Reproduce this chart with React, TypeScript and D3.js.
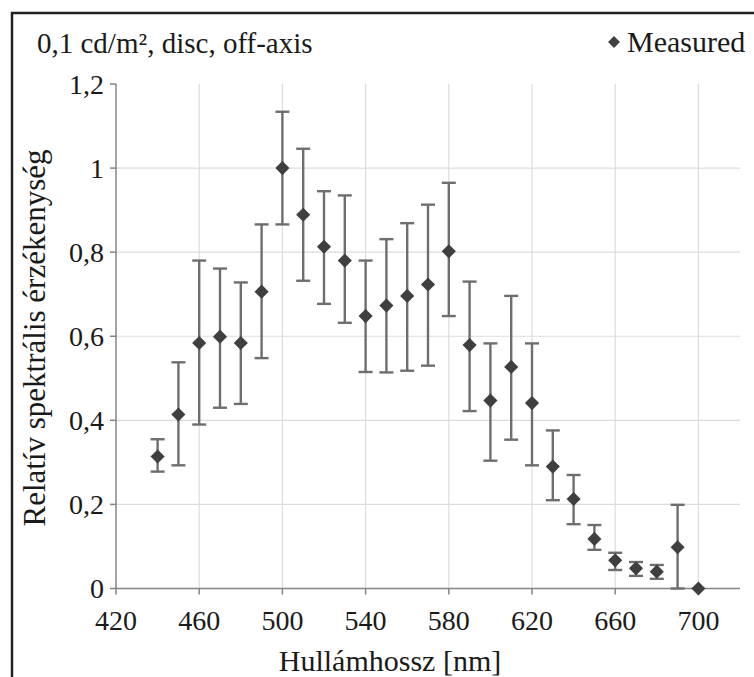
import React, { useRef, useEffect } from "react";
import * as d3 from "d3";

const wavelengths = [440, 450, 460, 470, 480, 490, 500, 510, 520, 530, 540, 550, 560, 570, 580, 590, 600, 610, 620, 630, 640, 650, 660, 670, 680, 690, 700];
const measured = [0.314, 0.414, 0.584, 0.599, 0.584, 0.706, 1.0, 0.889, 0.813, 0.78, 0.648, 0.673, 0.696, 0.723, 0.802, 0.579, 0.447, 0.527, 0.441, 0.29, 0.213, 0.118, 0.067, 0.048, 0.04, 0.098, 0.0];
const errUpper = [0.355, 0.538, 0.78, 0.761, 0.728, 0.866, 1.134, 1.046, 0.945, 0.935, 0.78, 0.831, 0.869, 0.913, 0.965, 0.73, 0.583, 0.696, 0.583, 0.376, 0.27, 0.151, 0.085, 0.063, 0.056, 0.199, 0.0];
const errLower = [0.278, 0.293, 0.39, 0.43, 0.439, 0.548, 0.866, 0.732, 0.677, 0.632, 0.515, 0.514, 0.518, 0.53, 0.648, 0.422, 0.304, 0.354, 0.293, 0.21, 0.153, 0.092, 0.044, 0.03, 0.023, 0.0, 0.0];
const xTicks = [420, 460, 500, 540, 580, 620, 660, 700];
const xGrid = [460, 500, 540, 580, 620, 660, 700];
const yTicks = [0, 0.2, 0.4, 0.6, 0.8, 1, 1.2];
const yGrid = [0.2, 0.4, 0.6, 0.8, 1];

const W = 754;
const H = 677;
const FONT = "Liberation Serif";
const TEXT = "#1a1a1a";
const AXIS = "#858585";

function Label(props: any) {
  const { children, ...rest } = props;
  return (
    <text fontFamily={FONT} fill={TEXT} {...rest}>
      {children}
    </text>
  );
}

export default function App() {
  const svgRef = useRef<SVGSVGElement>(null);

  useEffect(() => {
    // force the serif face on every label
    d3.select(svgRef.current)
      .selectAll<SVGTextElement, unknown>("text")
      .each(function () {
        this.style.setProperty("font-family", '"Liberation Serif", "Times New Roman", serif', "important");
      });
  }, []);

  const x = d3.scaleLinear().domain([420, 720]).range([116, 740]);
  const y = d3.scaleLinear().domain([0, 1.2]).range([588.5, 84]);
  const fmt = (v: number) => d3.format(".1~f")(v).replace(".", ",");
  const diamond = d3.symbol().type(d3.symbolSquare).size(100)() as string;
  const legendDiamond = d3.symbol().type(d3.symbolSquare).size(70)() as string;

  return (
    <svg ref={svgRef} width={W} height={H} style={{ position: "absolute", left: 0, top: 0 }}>
      <rect width={W} height={H} fill="white" />
      {/* frame */}
      <rect x={12} y={13} width={W + 20} height={H + 20} fill="none" stroke="#222" strokeWidth={2.5} />

      {/* grid */}
      {xGrid.map((d) => (
        <line key={"gx" + d} x1={x(d)} x2={x(d)} y1={y(1.2)} y2={y(0)} stroke="#dcdcdc" strokeWidth={1.2} />
      ))}
      {yGrid.map((d) => (
        <line key={"gy" + d} x1={x(420)} x2={x(720)} y1={y(d)} y2={y(d)} stroke="#dcdcdc" strokeWidth={1.2} />
      ))}

      {/* axes */}
      <line x1={x(420)} x2={x(720)} y1={y(0)} y2={y(0)} stroke={AXIS} strokeWidth={1.5} />
      <line x1={x(420)} x2={x(420)} y1={y(0)} y2={y(1.2)} stroke={AXIS} strokeWidth={1.5} />
      {xTicks.map((d) => (
        <g key={"tx" + d} transform={`translate(${x(d)},${y(0)})`}>
          <line y2={6} stroke={AXIS} strokeWidth={1.5} />
          <Label y={41} textAnchor="middle" fontSize={28}>
            {d}
          </Label>
        </g>
      ))}
      {yTicks.map((d) => (
        <g key={"ty" + d} transform={`translate(${x(420)},${y(d)})`}>
          <line x2={-6} stroke={AXIS} strokeWidth={1.5} />
          <Label x={-12} dy="0.35em" textAnchor="end" fontSize={28}>
            {fmt(d)}
          </Label>
        </g>
      ))}

      {/* error bars */}
      <g stroke="#6e6e6e" strokeWidth={2.4}>
        {wavelengths.map((w, i) =>
          errUpper[i] === errLower[i] ? null : (
            <g key={"e" + w}>
              <line x1={x(w)} x2={x(w)} y1={y(errUpper[i])} y2={y(errLower[i])} />
              <line x1={x(w) - 7} x2={x(w) + 7} y1={y(errUpper[i])} y2={y(errUpper[i])} />
              <line x1={x(w) - 7} x2={x(w) + 7} y1={y(errLower[i])} y2={y(errLower[i])} />
            </g>
          )
        )}
      </g>

      {/* markers */}
      {wavelengths.map((w, i) => (
        <path key={"m" + w} d={diamond} transform={`translate(${x(w)},${y(measured[i])}) rotate(45)`} fill="#3f3f3f" />
      ))}

      {/* title */}
      <Label x={37} y={53} fontSize={29}>
        0,1 cd/m², disc, off-axis
      </Label>

      {/* legend */}
      <path d={legendDiamond} transform="translate(614,42) rotate(45)" fill="#3f3f3f" />
      <Label x={627} y={52} fontSize={30}>
        Measured
      </Label>

      {/* axis titles */}
      <Label x={390} y={671} textAnchor="middle" fontSize={30}>
        Hullámhossz [nm]
      </Label>
      <Label transform="translate(45,338) rotate(-90)" textAnchor="middle" fontSize={31}>
        Relatív spektrális érzékenység
      </Label>
    </svg>
  );
}
